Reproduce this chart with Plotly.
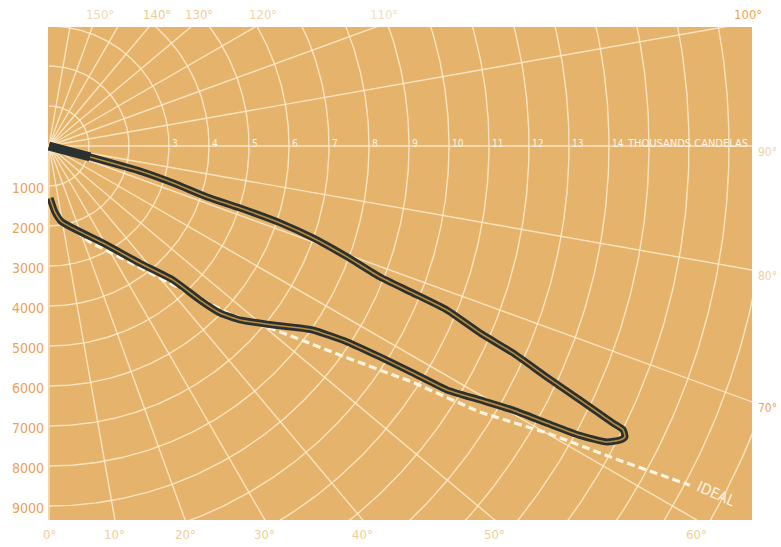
import numpy as np
import plotly.graph_objects as go

# ---------------- data ----------------
# Candlepower distribution curve: angle from nadir (deg) and candelas
curve_angle_deg = [1.1, 5.2, 9.5, 30.2, 37.8, 42.8, 44.4, 45.7, 47.7, 51.4, 54.05, 55.1,
                   56.7, 57.5, 58.05, 58.5, 59.5, 60.35, 60.9, 61.4, 62.05, 62.76, 63.2,
                   63.7, 63.84, 64.44, 65.1, 65.96, 66.55, 67.6, 68.0, 68.4, 69.6, 70.8,
                   71.6, 72.0, 72.1, 73.4, 74.6, 75.0, 76.0, 90.0]
curve_candela = [1300, 1660, 1920, 2860, 3710, 4570, 5390, 5980, 6460, 7170, 7750, 8040,
                 8920, 9810, 10720, 11670, 12510, 13350, 14250, 15110, 15790, 16060, 16130,
                 16010, 15710, 14720, 13720, 12700, 11750, 10760, 9810, 8900, 7950, 6990,
                 6090, 5020, 4150, 3240, 2360, 1060, 300, 0]

# "Ideal" distribution (dashed white)
ideal_angle_deg = [12.0, 23.1, 47.1, 51.2, 54.6, 57.0, 58.3, 60.05, 61.05, 62.1]
ideal_candela = [2000, 2610, 6170, 7410, 9140, 10850, 12660, 14370, 16110, 18130]

# axis / scale labels
left_ticks = [1000, 2000, 3000, 4000, 5000, 6000, 7000, 8000, 9000]
thousand_labels = [3, 4, 5, 6, 7, 8, 9, 10, 11, 12, 13, 14]
bottom_angles = [0, 10, 20, 30, 40, 50, 60]
top_angles = [150, 140, 130, 120, 110, 100]
right_angles = [90, 80, 70]
grid_radii = list(range(1, 21))          # thousands of candelas
grid_angles = list(range(0, 180, 10))    # degrees from nadir

# ---------------- geometry ----------------
X_MIN, X_MAX = -0.025, 17.575
Y_MIN, Y_MAX = -9.35, 2.975


def to_xy(angles, cds):
    a = np.radians(np.asarray(angles, dtype=float))
    r = np.asarray(cds, dtype=float) / 1000.0
    return r * np.sin(a), -r * np.cos(a)


BG = "#E5B36B"
GRID = "rgba(255,240,212,0.8)"
FONT = "DejaVu Sans Condensed, Liberation Sans Narrow, Roboto Condensed, Roboto, sans-serif"

fig = go.Figure()

# grid circles
t = np.radians(np.linspace(0, 180, 361))
for rr in grid_radii:
    fig.add_trace(go.Scatter(x=rr * np.sin(t), y=-rr * np.cos(t), mode="lines",
                             line=dict(color=GRID, width=1.4), hoverinfo="skip",
                             showlegend=False))
# grid radials
for ang in grid_angles:
    a = np.radians(ang)
    fig.add_trace(go.Scatter(x=[0, 25 * np.sin(a)], y=[0, -25 * np.cos(a)], mode="lines",
                             line=dict(color=GRID, width=1.4), hoverinfo="skip",
                             showlegend=False))

# ideal curve
ix, iy = to_xy(ideal_angle_deg, ideal_candela)
fig.add_trace(go.Scatter(x=ix, y=iy, mode="lines",
                         line=dict(color="rgba(255,247,228,0.97)", width=3.2, dash="8px,4px"),
                         hoverinfo="skip", showlegend=False))

# measured curve: dark outline with tan core
cx, cy = to_xy(curve_angle_deg, curve_candela)
fig.add_trace(go.Scatter(x=cx, y=cy, mode="lines",
                         line=dict(color="#2B3030", width=7, shape="spline", smoothing=0.5),
                         hoverinfo="skip", showlegend=False))
fig.add_trace(go.Scatter(x=cx[-3:], y=cy[-3:], mode="lines",
                         line=dict(color="#2B3030", width=9),
                         hoverinfo="skip", showlegend=False))
fig.add_trace(go.Scatter(x=cx[:-2], y=cy[:-2], mode="lines",
                         line=dict(color="#B98B38", width=1.6, shape="spline", smoothing=0.5),
                         hoverinfo="skip", showlegend=False))

ann = []
# left tick labels
for v in left_ticks:
    ann.append(dict(x=0, y=-v / 1000, xref="x", yref="y", text=str(v), showarrow=False,
                    xanchor="right", yanchor="middle", xshift=-3, yshift=-2,
                    font=dict(family=FONT, size=14, color="#EFA257")))
# bottom angle labels
for ang in bottom_angles:
    xb = -Y_MIN * np.tan(np.radians(ang))
    ann.append(dict(x=xb, y=Y_MIN, xref="x", yref="y", text=f"{ang}°", showarrow=False,
                    xanchor="center", yanchor="top", yshift=-5,
                    font=dict(family=FONT, size=13, color="#F3CD98")))
# top angle labels
top_colors = {150: "#F1D8B8", 140: "#F0C893", 130: "#F3CB9A", 120: "#F4D3A8",
              110: "#F4E0C6", 100: "#EEA255"}
top_shift = {150: -18, 100: 24}
for ang in top_angles:
    xt = Y_MAX / np.tan(np.radians(ang - 90))
    ann.append(dict(x=xt, y=Y_MAX, xref="x", yref="y", text=f"{ang}°", showarrow=False,
                    xanchor="center", yanchor="bottom", yshift=3,
                    xshift=top_shift.get(ang, 8),
                    font=dict(family=FONT, size=13, color=top_colors[ang])))
# right angle labels
right_colors = {90: "#F0D2A6", 80: "#F0CFA2", 70: "#EEA255"}
for ang in right_angles:
    a = np.radians(ang)
    yr = -X_MAX / np.tan(a) if ang != 90 else 0
    ann.append(dict(x=X_MAX, y=yr, xref="x", yref="y", text=f"{ang}°", showarrow=False,
                    xanchor="left", yanchor="middle", xshift=4, yshift=-6,
                    font=dict(family=FONT, size=12, color=right_colors[ang])))
# thousand labels along the 90° line
for k in thousand_labels:
    ann.append(dict(x=k, y=0, xref="x", yref="y", text=str(k), showarrow=False,
                    xanchor="left", yanchor="middle", xshift=1, yshift=3,
                    font=dict(family=FONT, size=10, color="#FFF6E6")))
ann.append(dict(x=thousand_labels[-1], y=0, xref="x", yref="y", text="THOUSANDS CANDELAS",
                showarrow=False, xanchor="left", yanchor="middle", xshift=16, yshift=3,
                font=dict(family=FONT, size=11, color="#FFF6E6")))
# IDEAL label
ann.append(dict(x=ix[-1], y=iy[-1], xref="x", yref="y", text="IDEAL", showarrow=False,
                xanchor="center", yanchor="middle", xshift=26, yshift=-9, textangle=24,
                font=dict(family=FONT, size=15, color="#FFF3E0")))

fig.update_layout(
    width=781, height=547,
    margin=dict(l=48, r=29, t=27, b=27),
    paper_bgcolor="white", plot_bgcolor=BG,
    xaxis=dict(range=[X_MIN, X_MAX], showgrid=False, zeroline=False, showticklabels=False,
               ticks="", fixedrange=True),
    yaxis=dict(range=[Y_MIN, Y_MAX], showgrid=False, zeroline=False, showticklabels=False,
               ticks="", fixedrange=True),
    annotations=ann,
    showlegend=False,
)

# remove the default page margin so the figure fills the window exactly
fig.write_html("out.html",
               config={"displayModeBar": False},
               post_script="document.body.style.margin='0';"
                           "document.body.style.overflow='hidden';")
